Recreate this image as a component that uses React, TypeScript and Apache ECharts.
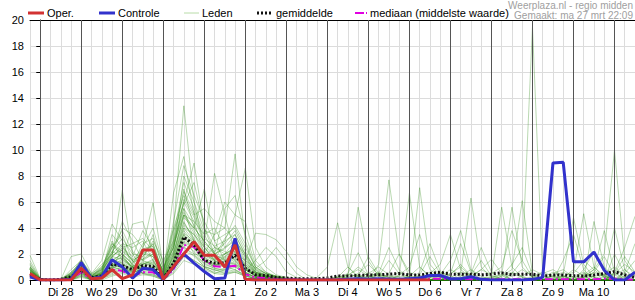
import React, { useEffect, useRef } from "react";
import * as echarts from "echarts";

// 6-hourly steps, hours relative to Di 28 00:00 (first step = Ma 27 18:00)
const stepCount = 60;
const hours = Array.from({ length: stepCount }, (_, i) => -6 + 6 * i);

const dayLabels = ["Di 28", "Wo 29", "Do 30", "Vr 31", "Za 1", "Zo 2", "Ma 3", "Di 4", "Wo 5", "Do 6", "Vr 7", "Za 8", "Zo 9", "Ma 10"];
const midnights = [0, 24, 48, 72, 96, 120, 144, 168, 192, 216, 240, 264, 288, 312, 336];

const oper = [
  0.5, 0, 0, 0, 0, 0.9, 0.1, 0.15, 0.8, 0.1,
  0.4, 2.3, 2.3, 0.05, 1.05, 2.0, 2.95, 1.9, 1.9, 1.0,
  2.7, 0.05, 0, 0, 0, 0, 0, 0, 0, 0,
  0, 0, 0, 0, 0, 0, 0, 0, 0, 0,
];

const controle = [
  0.25, 0, 0, 0, 0.05, 1.35, 0.1, 0.25, 1.55, 1.0,
  0.15, 0.9, 0.8, 0.05, 1.0, 2.0, 1.3, 0.65, 0.1, 0.15,
  3.2, 0.05, 0, 0, 0, 0, 0, 0, 0, 0,
  0, 0.05, 0.1, 0.05, 0.1, 0.05, 0.05, 0.1, 0.15, 0.35,
  0.35, 0.1, 0.1, 0.25, 0.05, 0, 0, 0, 0, 0.05,
  0.2, 9.0, 9.05, 1.4, 1.4, 2.15, 0.75, 0, 0, 0.6,
];

const gemiddelde = [
  0.4, 0.05, 0, 0.05, 0.25, 0.8, 0.2, 0.3, 1.2, 1.1,
  0.8, 1.1, 1.05, 0.1, 1.3, 3.3, 2.7, 1.5, 1.3, 1.3,
  1.9, 0.9, 0.4, 0.35, 0.2, 0.15, 0.1, 0.1, 0.1, 0.15,
  0.3, 0.3, 0.35, 0.38, 0.4, 0.45, 0.5, 0.4, 0.38, 0.5,
  0.6, 0.45, 0.45, 0.45, 0.4, 0.45, 0.55, 0.4, 0.45, 0.45,
  0.3, 0.38, 0.38, 0.33, 0.3, 0.38, 0.5, 0.65, 0.4, 0.2,
];

const mediaan = [
  0.3, 0, 0, 0, 0.1, 0.6, 0.05, 0.15, 0.8, 0.7,
  0.3, 0.6, 0.6, 0.05, 0.8, 2.7, 2.55, 1.5, 1.05, 1.0,
  1.1, 0.45, 0.2, 0.15, 0.1, 0.05, 0.05, 0, 0, 0,
  0.05, 0.05, 0.05, 0.05, 0.1, 0.1, 0.05, 0.05, 0.05, 0.1,
  0.1, 0.05, 0.05, 0.05, 0.05, 0.05, 0.05, 0.05, 0.05, 0.05,
  0.05, 0.05, 0.05, 0.05, 0.05, 0.05, 0.1, 0.1, 0.05, 0,
];

const m01 = [0.8,0,0,0,0.2,1.0,0.1,0.3,1.5,2.0, 0.8,1.2,1.5,0.2,2.0,4.5,3.0,1.5,1.0,1.8, 2.5,0.8,0.3,0.2,0.1,0,0,0,0,0.1, 0.2,0.5,2.1,0.4,0,0,0,0.3,0.2,0, 0,0.4,1.2,0.3,0,0,0,0.5,0.2,0, 0,0.1,0.3,0,0,0.6,1.8,0.4,0,0];
const m02 = [1.2,0.1,0,0,0.3,1.4,0.2,0.5,2.5,3.5, 1.5,2.0,2.8,0.5,4.0,13.4,6.0,2.5,1.5,2.0, 3.0,1.5,0.6,0.4,0.2,0.1,0,0,0,0, 0,0,0.2,0.5,0.3,0,0,0,0,0.2, 0.6,0.3,0,0,0,0.2,0.4,0,0,0, 0,0,0,0.5,1.5,0.8,0.2,0,0.3,0.5];
const m03 = [0.5,0,0,0,0,0.6,0,0.2,1.8,6.9, 2.0,0.8,1.0,0.1,1.0,3.5,2.0,1.0,0.5,0.8, 1.2,0.5,0.2,0.1,0,0,0,0,0,0, 0.3,0.1,0,0,1.2,7.7,2.0,0.3,0,0, 0,0,0,0,0.2,0.1,0,0,0,0, 0,0.2,0.1,0,0,0,0,0.4,0.8,0.2];
const m04 = [0.6,0,0,0.1,0.5,1.2,0.3,0.8,3.0,1.5, 1.0,2.5,5.95,1.0,2.5,6.0,4.5,2.0,1.5,1.0, 0.8,0.3,0.1,0,0,0,0,0,0,0, 0,0,0,0.2,0.6,0.2,0,0,0,0, 0,0,0.5,6.3,1.0,0.2,0,0,0,0, 0,0,0,0.2,0.5,0.2,0,0,0,0];
const m05 = [1.0,0.1,0,0,0.2,0.8,0.1,0.6,1.2,1.0, 0.5,1.0,0.8,0.3,6.7,9.5,5.0,3.0,2.0,1.5, 1.8,1.2,0.5,0.3,0.2,0.1,0,0,0,0, 0,0.2,0.4,0.1,0,0,0,0,0.3,0.6, 0.2,0,0,0,0,0,0.3,0.8,6.1,0.5, 0,0,0,0,0,0.3,0.4,0.1,0,0];
const m06 = [0.4,0,0,0,0,0.5,0,0.1,0.8,1.0, 0.6,1.5,1.2,0,1.0,3.0,2.5,2.0,3.5,4.0, 9.7,3.0,1.0,0.5,0.3,0.2,0.1,0,0,0, 0,0,0,0,0.1,0.3,0.2,0,0,0, 0,0,0,0,0,0.3,5.6,1.0,0.2,0, 0,0,0.2,0.8,0.3,0,0,0,0,0];
const m07 = [0.7,0,0,0,0.1,0.9,0.2,0.4,1.0,0.8, 0.4,0.6,0.8,0.2,1.5,4.0,3.0,2.0,1.5,3.0, 5.0,8.6,2.5,1.0,0.4,0.2,0,0,0,0, 0,0,0.1,0.3,0,0,0,0,0,0.2, 0.4,0.1,0,0,0,0,0,0,0,0.2, 0.5,0.8,0.3,0,0,0,0,0.6,2.5,4.9];
const m08 = [0.3,0,0,0,0,0.4,0,0.2,1.5,2.0, 1.2,0.5,0.3,0,2.0,5.0,4.0,3.0,8.2,5.0, 2.0,1.0,0.3,0.2,0.1,0,0,0,0,0, 0.2,0.4,0.3,0,0,0,0,0,0,0, 0,0,0,0.2,0.8,0.4,0,0,0,0, 0,0,0.4,4.8,1.2,0.2,0,0,0,0];
const m09 = [0.9,0,0,0,0.4,1.6,0.3,1.0,2.0,4.5, 3.0,1.5,2.0,0.8,2.5,6.0,9.0,4.0,2.0,1.0, 1.5,0.5,0.2,0.1,0,0,0,0,0,0, 0,0,0,0,0,0,0.3,6.7,1.0,0.2, 0,0,0,0,0,0,0,0,0,0, 0.1,0.3,0.2,0,0,0,0.5,1.0,0.3,0];
const m10 = [0.6,0,0,0,0.1,0.7,0.1,0.3,0.9,1.2, 0.8,1.0,1.4,0.4,1.2,2.5,2.0,1.8,1.2,1.5, 2.0,1.5,3.6,3.5,3.1,2.2,1.0,0.4,0.1,0, 0,0,0.2,0.5,1.0,0.4,0,0,0,0, 0,0.2,0.6,0.3,0,0,0,0,0,0, 0,0,0,0,0.2,0.5,0.3,0,0,0];
const m11 = [1.9,0.1,0,0,1.8,2.0,0.5,1.5,4.3,3.0, 1.0,0.5,0.4,0.1,0.8,2.0,1.5,1.0,0.8,0.5, 0.6,0.3,0.1,0,0,0,0,0,0,0, 0,0,0,0,0,0,0,0.2,7.1,1.2, 0.3,0,0,0,0,0,0,0,0,0, 0,0,0,0,0,0,0,0,0.2,0.4];
const m12 = [0.5,0,0,0,0.2,0.8,0.1,0.2,1.0,1.5, 4.3,4.5,2.0,0.3,1.8,4.0,3.5,2.5,1.5,1.2, 1.0,0.6,0.2,0.1,0,0,0,0,0,0, 0.1,0.4,5.6,1.5,0.3,0,0,0,0,0, 0,0,0,0,0,0.2,0.4,5.6,1.0,0.2, 0,0,0,0,0,0,0,0,0,0];
const m13 = [0.4,0,0,0,0,0.3,0,0.1,0.5,0.8, 0.3,0.6,0.5,0,0.8,2.0,1.5,1.0,0.8,0.6, 0.8,0.4,0.1,0,0,0,0,0,0,0, 0,0,0,0,0,0.1,0.3,0.2,0,0, 0,0,0,0,0,0,0,0.5,1.5,19.5, 0.3,0,0,0,0,0,0,0,0,0];
const m14 = [0.8,0,0,0,0.3,1.0,0.2,0.5,1.2,1.0, 0.6,0.8,1.0,0.2,1.5,3.5,2.8,1.5,1.0,2.0, 2.5,1.0,0.4,0.2,0.1,0,0,0,0,0, 0,0,0,0,0,0,0,0,0,0, 0.2,0.5,1.0,0.3,0,0,0,0,0,0, 0,0,0,0,0.3,0.8,2.0,10.0,1.5,0.3];
const m15 = [0.6,0,0,0,0.1,0.6,0,0.3,0.8,2.5, 1.5,0.7,0.9,0.1,1.0,2.8,2.2,1.2,0.9,0.7, 1.0,0.5,0.6,0.4,0.3,0.1,0,0,0.2,1.0, 4.4,1.0,0.2,0,0,0,0,0,0,0, 0,0,0,0,0,0,0,0,0,0, 0,0,0.3,0.6,5.1,1.0,0.2,0,0,0];
const m16 = [1.1,0,0,0,0.6,1.3,0.4,0.8,2.2,1.8, 0.9,1.8,3.0,1.5,3.0,5.5,3.0,1.8,2.5,2.2, 1.5,0.8,0.3,0.2,0.1,0,0,0,0,0, 0,0,0,0.3,0.5,0.2,0,0,0,0.5, 1.2,3.5,0.8,0.2,0,0,0,0,0,0, 0,0,0,0,0,0,0,0,0,0];
const m17 = [0.3,0,0,0,0,0.2,0,0,0.3,0.5, 0.2,0.4,0.3,0,0.5,1.5,1.2,0.8,0.5,0.4, 0.6,0.3,0.1,0,0,0,0,0,0,0, 0,0,0,0,0,0,0,0,0,0, 0,0,0,0.4,1.5,0.3,0,0,0,0, 0,0,0,0,0,4.5,1.0,0.2,0,0];
const m18 = [0.7,0.1,0,0,0.2,0.9,0.2,0.4,1.6,1.3, 0.7,1.3,1.1,0.6,2.2,4.8,4.0,7.0,3.0,1.5, 1.2,0.8,0.4,0.3,0.2,0.1,0,0,0,0, 0,0,0,0,0,0.5,2.0,0.6,0.2,0, 0,0,0,0,0,0,0,0,0.3,0.8, 0.4,0,0,0,0,0,0,0,0,0];
const m19 = [0.5,0,0,0,0.1,0.5,0.1,0.2,1.0,1.4, 0.9,1.1,0.7,0.2,1.3,3.2,2.5,1.5,1.2,1.0, 1.4,0.7,1.5,2.5,1.8,0.6,0.2,0,0,0, 0,0,0,0,0,0,0,0,0,0, 0,0,0.2,0.5,2.5,0.6,0,0,0,0, 0,0,0,0,0,0,0,0.5,1.2,0.6];
const m20 = [0.9,0,0,0,0.3,1.1,0.3,0.6,2.8,2.0, 1.3,2.2,1.8,0.4,1.8,4.2,3.5,2.0,1.6,1.8, 2.2,1.2,0.5,0.3,0.2,0.1,0,0,0,0, 0,0.3,1.0,0.4,0,0,0,0,0,0, 0,0,0,0,0,0,0.3,1.2,2.5,0.4, 0,0,0,0,0.2,0.6,0.4,0,0,0];
const m21 = [0.4,0,0,0,0,0.4,0,0.1,0.6,0.9, 0.5,0.9,0.6,0.1,0.9,2.6,1.8,1.1,0.7,0.9, 1.3,0.6,0.2,0.1,0,0,0,0,0,0, 0,0,0,0,0,0,0,0,0.4,1.8, 0.5,0,0,0,0,0,0,0,0,0, 0,0,0,0,0.2,0.8,3.8,0.6,0,0];
const m22 = [1.3,0.1,0,0,0.5,1.5,0.3,0.7,2.0,2.8, 2.5,3.0,1.5,0.3,2.8,5.0,4.5,3.5,2.0,2.5, 3.5,2.0,0.8,0.5,0.3,0.1,0,0,0,0, 0,0,0,0,0,0,0,0.3,1.0,0.3, 0,0,0,0,0,0,0,0,0,0, 0,0.5,0.8,0.2,0,0,0,0,0,0];
const m23 = [0.6,0,0,0,0.2,0.7,0.1,0.3,1.1,1.6, 1.0,0.9,0.8,0.2,1.4,3.8,2.8,1.6,1.1,1.3, 1.7,0.9,0.3,0.2,0.1,0,0,0,0,0, 0,0,0,0,0.3,1.5,0.5,0,0,0, 0,0,0,0,0,0,0,0,0,0, 0,0,0,0,0,0,0,2.0,0.5,0];
const m24 = [0.8,0,0,0,0.2,0.9,0.1,0.4,1.3,1.1, 0.7,1.4,1.3,0.3,1.6,3.6,3.0,1.7,1.3,1.6, 2.0,1.1,0.4,0.2,0.1,0,0,0,0,0, 0,0,0,0,0,0,0,0,0,0, 0.3,0.8,0.4,0,0,0,0,0,0,0, 0,0,0,0,0,0,0,0,0.6,2.8];
const m25 = [0.5,0,0,0,0,0.5,0,0.2,0.7,1.0, 0.6,0.8,0.9,0.1,1.1,2.2,1.9,1.3,0.9,0.8, 1.1,0.6,0.2,0.1,0,0,0,0,0,0, 0.1,0.2,0.5,1.2,0.4,0,0,0,0,0, 0,0,0.3,0.8,0.3,0,0,0,0,0, 0,0,0,0,0.4,1.0,0.3,0,0,0];
const m26 = [0.7,0,0,0,0.1,0.7,0.2,0.5,1.4,1.7, 1.1,1.3,1.2,0.4,1.7,4.4,3.2,1.9,1.4,1.7, 2.1,1.3,0.6,0.3,0.2,0.1,0,0,0,0, 0,0,0,0,0,0,0.4,1.0,3.5,0.8, 0.2,0,0,0,0,0,0,0,0,0, 0,0,0,0,0,0,0,0,0.5,1.5];
const m27 = [0.3,0,0,0,0,0.3,0,0.1,0.4,0.6, 0.3,0.5,0.4,0,0.6,1.8,1.3,0.9,0.6,0.5, 0.7,0.4,0.1,0,0,0,0,0,0,0, 0,0,0,0,0,0,0,0,0,0, 0,0,0,0.3,0.8,1.6,0.5,0,0,0, 0,0.3,0.6,0.2,0,0,0,0,0,0];
const m28 = [1.0,0.1,0,0,0.4,1.2,0.2,0.6,1.8,1.6, 1.0,1.6,2.2,0.5,2.0,5.0,3.6,2.2,1.7,2.0, 2.4,1.4,0.5,0.3,0.2,0.1,0,0,0,0, 0,0,0,0.2,0.4,0.2,0,0,0,0, 0,0,0,0,0,0,0.2,0.6,0.3,0, 0,0,0,0,0,0,0.3,4.0,0.8,0];
const m29 = [0.6,0,0,0,0.1,0.6,0.1,0.3,0.9,1.2, 0.7,1.0,0.9,0.2,1.2,2.9,2.4,1.4,1.0,1.2, 1.6,0.8,0.3,0.1,0,0,0,0,0,0, 0,0.4,0.8,0.3,0,0,0,0,0,0, 0,0,0,0,0,0,0,0,0,0.3, 0.6,0.3,0,0,0,0,0,0,0,0];
const m30 = [0.8,0,0,0,0.2,0.8,0.1,0.4,1.1,1.3, 0.8,1.2,1.0,0.2,1.4,3.3,2.7,1.5,1.1,1.4, 1.8,0.9,0.4,0.2,0.1,0,0,0,0,0, 0,0,0,0,0,0,0,0,0,0, 0,0.5,2.8,0.6,0,0,0,0,0,0, 0,0,0,0,0,0,0,0,0,0];
const m31 = [0.9,0,0,0,0.5,1.0,0.3,0.9,2.5,3.8, 2.2,1.5,3.5,0.8,3.5,7.5,5.5,3.5,4.0,2.5, 3.0,1.8,0.6,0.3,0.1,0,0,0,0,0, 0,0,0,0,0.5,2.5,0.8,0,0,0, 0,0,0,0,0,0,0,0,0,0, 0,0,0,0,0.8,2.2,0.6,0,0,0];
const m32 = [0.7,0,0,0,0.3,1.1,0.2,0.6,3.5,2.5, 1.8,3.8,2.5,0.6,4.5,8.8,6.5,4.5,3.0,3.5, 4.0,2.5,1.0,0.5,0.2,0,0,0,0,0, 0,0,0.3,1.8,0.5,0,0,0,0,0, 0,0,0,0,0,0,0,0,0,0, 0,0,0,0.3,0.6,0.2,0,0,0,0];
const m33 = [0.5,0,0,0,0.2,0.7,0.4,1.2,2.0,4.0, 3.5,2.5,4.0,1.2,4.0,6.5,5.0,5.5,4.5,4.0, 3.0,2.0,0.8,0.3,0.1,0,0,0,0,0, 0,0,0,0,0,0,0,0,0,0, 0.4,1.5,3.8,0.8,0,0,0,0,0,0, 0,0,0,0,0,0,0,0,0,0];
const m34 = [1.5,0.1,0,0,0.8,1.5,0.5,1.0,2.8,2.2, 1.5,2.0,1.8,0.5,3.0,7.0,4.0,3.0,2.0,5.5, 6.5,3.5,1.2,0.6,0.3,0.1,0,0,0,0, 0,0,0,0,0,0,0,0,0,0, 0,0,0,0,0,0.5,1.0,3.8,1.5,0.2, 0,0,0,0,0,0,0,0,0,0];
const m35 = [0.8,0,0,0,0.4,1.2,0.3,0.8,1.8,2.5, 2.8,3.2,2.2,0.7,3.8,5.8,7.5,4.0,2.5,2.0, 2.5,1.5,0.9,1.5,2.5,1.5,0.5,0,0,0, 0,0,0,0,0,0,0,0,0,0, 0,0,0,0,0,0,0,0,0,0, 0,0,1.5,3.5,0.8,0,0,0,0,0];
const m36 = [0.6,0,0,0,0.2,0.9,0.2,0.5,2.2,3.2, 2.0,1.8,2.8,0.4,2.2,8.0,6.0,3.8,3.5,6.0, 5.0,4.5,1.5,0.6,0.2,0,0,0,0,0, 0,0,0,0,0,0,0,0,0.6,2.8, 0.7,0,0,0,0,0,0,0,0,0, 0,0,0,0,0,0,0,0,0,0];
const m37 = [1.0,0.1,0,0,0.6,1.3,0.4,0.9,2.6,2.0, 1.2,2.8,3.2,0.9,2.8,6.2,4.8,2.8,2.2,2.8, 3.8,2.2,0.7,0.4,0.2,0,0,0,0,0, 0,0,0,0,0,0,0,0,0,0, 0,0,0,0,0,0,0,0,0,0, 0.2,0.6,0.3,0,0,0,0,0,0,0];
const m38 = [0.4,0,0,0,0.1,0.6,0.1,0.4,1.4,1.8, 1.0,1.2,1.6,0.3,2.5,5.2,3.8,2.5,1.8,3.2, 4.2,2.8,0.9,0.5,0.2,0.1,0,0,0,0, 0.2,1.0,0.3,0,0,0,0,0,0,0, 0,0,0,0,0,0,0,0,0,0, 0,0,0,0,0,0,0,0.5,1.8,0.6];
const m39 = [0.9,0,0,0,0.3,1.0,0.2,0.7,1.9,2.3, 1.6,2.4,2.6,0.6,3.2,6.8,5.2,3.2,2.6,3.0, 3.5,1.9,0.6,0.3,0.1,0,0,0,0,0, 0,0,0,0,0,0,0,0,0,0, 0,0,0,0,0,0,0,0.3,0.8,0.3, 0,0,0,0,0,0,0,0,0,0];
const m40 = [0.6,0,0,0,0.2,0.8,0.2,0.5,1.7,2.7, 1.4,1.6,2.0,0.5,2.6,5.5,4.2,2.6,2.0,2.4, 3.2,1.7,0.5,0.2,0.1,0,0,0,0,0, 0,0,0,0,0,0.2,0.6,0.2,0,0, 0,0,0,0,0,0,0,0,0,0, 0,0,0,0,0,0,0.2,0.5,0.2,0];

const leden = [
  m01, m02, m03, m04, m05, m06, m07, m08, m09, m10,
  m11, m12, m13, m14, m15, m16, m17, m18, m19, m20,
  m21, m22, m23, m24, m25, m26, m27, m28, m29, m30,
  m31, m32, m33, m34, m35, m36, m37, m38, m39, m40,
];

const FONT = '"Liberation Sans", Arial, sans-serif';

function pairs(vals: number[]) {
  return vals.map((v, i) => [hours[i], v]);
}

export default function App() {
  const ref = useRef<HTMLDivElement>(null);

  useEffect(() => {
    if (!ref.current) return;
    const chart = echarts.init(ref.current, null, { renderer: "svg" });

    const memberSeries = leden.map((m, k) => ({
      name: "Leden" + k,
      type: "line",
      data: pairs(m),
      symbol: "none",
      silent: true,
      z: 2,
      lineStyle: { color: "rgba(45,140,20,0.33)", width: 1 },
    }));

    const option: any = {
      animation: false,
      backgroundColor: "#fff",
      grid: { left: 30, right: 0, top: 20, bottom: 20, containLabel: false, outerBoundsMode: "none" },
      xAxis: [
        {
          type: "value",
          min: -6,
          max: 348,
          interval: 6,
          axisLine: { show: true, onZero: false, lineStyle: { color: "#000", width: 1 } },
          axisTick: { show: true, length: 5, lineStyle: { color: "#000" } },
          axisLabel: {
            show: true,
            margin: 6,
            color: "#000",
            fontSize: 11,
            fontFamily: FONT,
            hideOverlap: false,
            showMinLabel: true,
            showMaxLabel: true,
            formatter: (v: number) => {
              if (((v % 24) + 24) % 24 === 12) {
                const idx = (v - 12) / 24;
                return dayLabels[idx] ?? "";
              }
              return "";
            },
          },
          splitLine: { show: true, lineStyle: { color: "#dcdcdc", width: 1 } },
        },
        {
          type: "value",
          position: "top",
          min: -6,
          max: 348,
          axisLine: { show: true, onZero: false, lineStyle: { color: "#000", width: 1 } },
          axisTick: { show: false },
          axisLabel: { show: false },
          splitLine: { show: false },
        },
      ],
      yAxis: {
        type: "value",
        min: 0,
        max: 20,
        interval: 2,
        axisLine: { show: true, lineStyle: { color: "#000", width: 1 } },
        axisTick: { show: true, length: 4, lineStyle: { color: "#000" } },
        axisLabel: { color: "#000", fontSize: 11, fontFamily: FONT, margin: 6 },
        splitLine: { show: true, lineStyle: { color: "#dcdcdc", width: 1 } },
      },
      series: [
        {
          name: "dagen",
          type: "line",
          data: [],
          silent: true,
          z: 1,
          markLine: {
            silent: true,
            symbol: "none",
            label: { show: false },
            lineStyle: { color: "#555", width: 1, type: "solid" },
            data: midnights.map((h) => ({ xAxis: h })),
          },
        },
        ...memberSeries,
        {
          name: "mediaan",
          type: "line",
          data: pairs(mediaan),
          symbol: "none",
          z: 3,
          lineStyle: { color: "#e000e0", width: 2, type: [8, 3, 2, 3] },
        },
        {
          name: "gemiddelde",
          type: "line",
          data: pairs(gemiddelde),
          symbol: "none",
          z: 4,
          lineStyle: { color: "#111", width: 3, type: [2, 2] },
        },
        {
          name: "Controle",
          type: "line",
          data: pairs(controle),
          symbol: "none",
          z: 5,
          lineStyle: { color: "#3232cc", width: 3 },
        },
        {
          name: "Oper.",
          type: "line",
          data: pairs(oper),
          symbol: "none",
          z: 6,
          lineStyle: { color: "#d23232", width: 3 },
        },
      ],
      graphic: [
        { type: "line", shape: { x1: 28, y1: 13, x2: 44, y2: 13 }, style: { stroke: "#d23232", lineWidth: 3 } },
        { type: "text", x: 47, y: 13, style: { text: "Oper.", font: "11px " + FONT, fill: "#000", verticalAlign: "middle" } },
        { type: "line", shape: { x1: 99, y1: 13, x2: 115, y2: 13 }, style: { stroke: "#3232cc", lineWidth: 3 } },
        { type: "text", x: 118, y: 13, style: { text: "Controle", font: "11px " + FONT, fill: "#000", verticalAlign: "middle" } },
        { type: "line", shape: { x1: 184, y1: 13, x2: 199, y2: 13 }, style: { stroke: "#b8dca8", lineWidth: 1 } },
        { type: "text", x: 202, y: 13, style: { text: "Leden", font: "11px " + FONT, fill: "#000", verticalAlign: "middle" } },
        { type: "line", shape: { x1: 257, y1: 13, x2: 272, y2: 13 }, style: { stroke: "#111", lineWidth: 3, lineDash: [2, 2] } },
        { type: "text", x: 276, y: 13, style: { text: "gemiddelde", font: "11px " + FONT, fill: "#000", verticalAlign: "middle" } },
        { type: "line", shape: { x1: 355, y1: 13, x2: 368, y2: 13 }, style: { stroke: "#e000e0", lineWidth: 2, lineDash: [9, 2, 1, 3] } },
        { type: "text", x: 370, y: 13, style: { text: "mediaan (middelste waarde)", font: "11px " + FONT, fill: "#000", verticalAlign: "middle" } },
        { type: "text", x: 633, y: 5, style: { text: "Weerplaza.nl - regio midden", font: "10px " + FONT, fill: "#a0a0a0", align: "right", verticalAlign: "middle" } },
        { type: "text", x: 633, y: 15, style: { text: "Gemaakt: ma 27 mrt 22:09", font: "10px " + FONT, fill: "#a0a0a0", align: "right", verticalAlign: "middle" } },
      ],
    };

    chart.setOption(option);
    return () => chart.dispose();
  }, []);

  return <div ref={ref} style={{ position: "absolute", left: 0, top: 0, width: 635, height: 300 }} />;
}
